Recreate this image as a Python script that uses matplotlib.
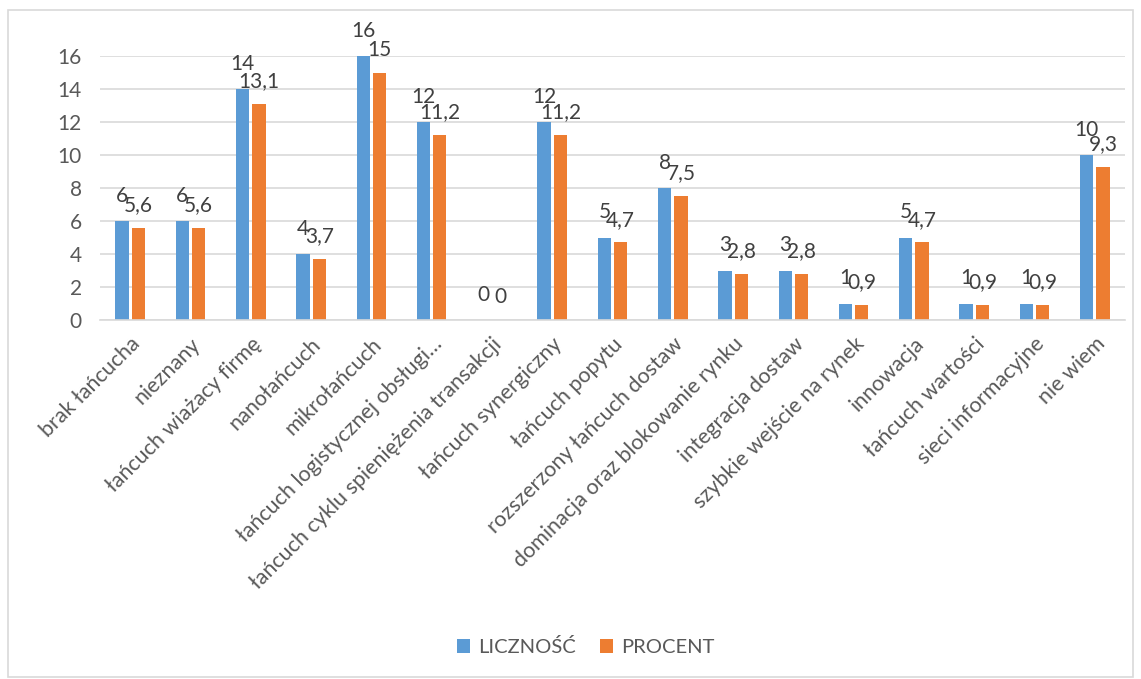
import numpy as np
import matplotlib.pyplot as plt
from matplotlib.patches import Rectangle

categories = ['brak łańcucha', 'nieznany', 'łańcuch wiażacy firmę', 'nanołańcuch',
              'mikrołańcuch', 'łańcuch logistycznej obsługi…',
              'łańcuch cyklu spieniężenia transakcji', 'łańcuch synergiczny',
              'łańcuch popytu', 'rozszerzony łańcuch dostaw',
              'dominacja oraz blokowanie rynku', 'integracja dostaw',
              'szybkie wejście na rynek', 'innowacja', 'łańcuch wartości',
              'sieci informacyjne', 'nie wiem']
licznosc = [6, 6, 14, 4, 16, 12, 0, 12, 5, 8, 3, 3, 1, 5, 1, 1, 10]
procent = [5.6, 5.6, 13.1, 3.7, 15, 11.2, 0, 11.2, 4.7, 7.5, 2.8, 2.8, 0.9, 4.7, 0.9, 0.9, 9.3]
yticks = [0, 2, 4, 6, 8, 10, 12, 14, 16]

plt.rcParams['font.family'] = ['Lato', 'DejaVu Sans']
txt = '#595959'

fig = plt.figure(figsize=(11.41, 6.79), dpi=100)
fig.patches.append(Rectangle((8 / 1141, 2 / 679), 1125 / 1141, 667 / 679,
                             transform=fig.transFigure, fill=False,
                             edgecolor='#d9d9d9', linewidth=1.2))
ax = fig.add_axes([100 / 1141, 1 - 320 / 679, 1025 / 1141, 264 / 679])

x = np.arange(len(categories))
w = 0.22
off = 0.135
ax.bar(x - off, licznosc, w, color='#5b9bd5', label='LICZNOŚĆ')
ax.bar(x + off, procent, w, color='#ed7d31', label='PROCENT')

def fmt(v):
    return ('%g' % v).replace('.', ',')

for xi, v in zip(x, licznosc):
    ax.annotate(fmt(v), (xi - off, v), xytext=(0, 14), textcoords='offset points',
                ha='center', va='baseline', fontsize=15, color='#404040')
for xi, v in zip(x, procent):
    ax.annotate(fmt(v), (xi + off, v), xytext=(0, 12), textcoords='offset points',
                ha='center', va='baseline', fontsize=15, color='#404040')

ax.set_xlim(-0.5, len(categories) - 0.5)
ax.set_ylim(0, 16)
ax.set_yticks(yticks)
ax.yaxis.grid(True, color='#d9d9d9', linewidth=1.2)
ax.set_axisbelow(True)
for s in ['top', 'right', 'left']:
    ax.spines[s].set_visible(False)
ax.spines['bottom'].set_color('#d9d9d9')
ax.spines['bottom'].set_linewidth(1.2)
ax.tick_params(axis='both', length=0, colors=txt, labelsize=15)
ax.tick_params(axis='y', pad=13)
ax.tick_params(axis='x', pad=10)
ax.set_xticks(x)
ax.set_xticklabels(categories, rotation=45, ha='right', rotation_mode='anchor',
                   fontsize=15.5, color=txt)

leg = fig.legend(loc='center', bbox_to_anchor=(586 / 1141, 1 - 647 / 679), ncol=2,
                 frameon=False, fontsize=14.5, handlelength=0.65, handleheight=0.65,
                 columnspacing=1.2, handletextpad=0.4)
for t in leg.get_texts():
    t.set_color(txt)

fig.savefig('out.png', dpi=100)
